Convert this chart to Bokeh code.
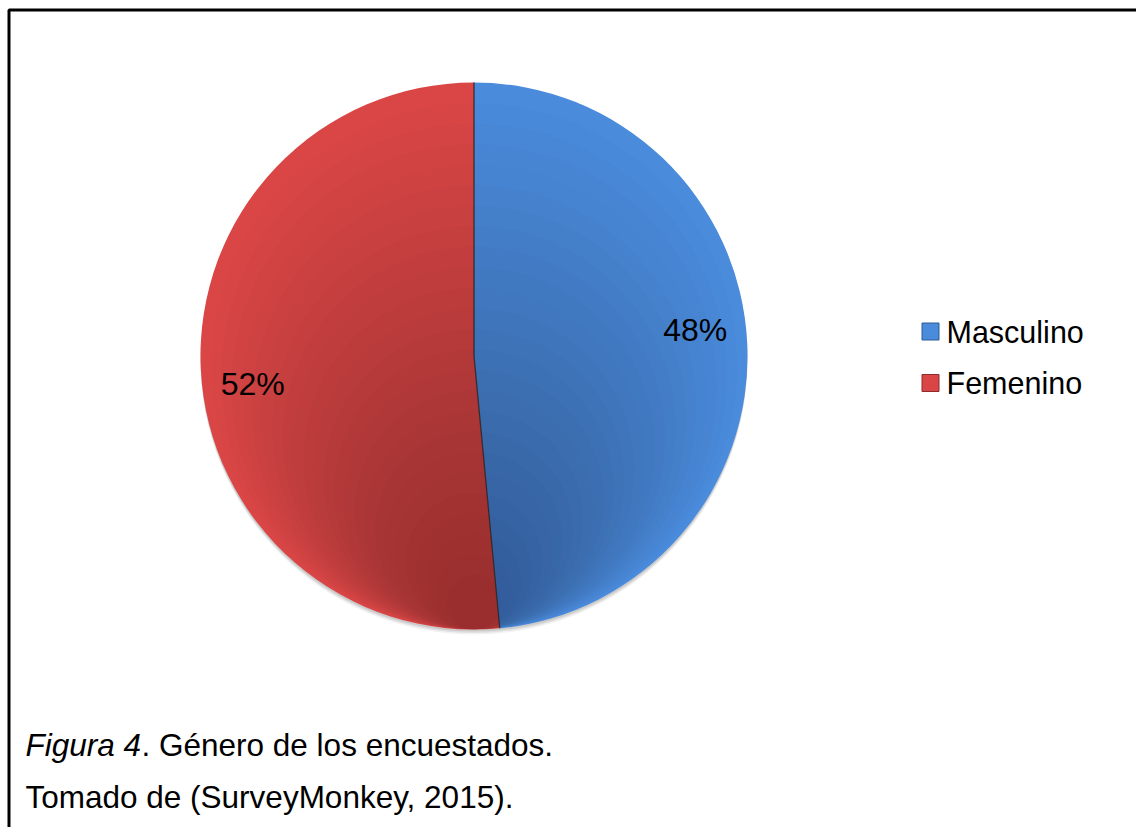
import numpy as np
from bokeh.plotting import figure
from bokeh.models import ColumnDataSource, Range1d, BoxAnnotation, Label
from bokeh.embed import file_html
from bokeh.resources import INLINE
from bokeh.core.properties import value

# ---- data ----
categories = ["Masculino", "Femenino"]
shares = [48.5, 51.5]
pct_labels = ["48%", "52%"]
colors = ["#4A8BDC", "#DA4646"]
edge_colors = ["#2C5A98", "#8E2B2B"]

W, H = 1136, 827
FONT = value("Liberation Sans")

p = figure(width=W, height=H, output_backend="svg", toolbar_location=None,
           x_range=Range1d(0, W), y_range=Range1d(0, H), min_border=0)
p.axis.visible = False
p.grid.visible = False
p.outline_line_color = None
p.background_fill_color = "white"
p.border_fill_color = "white"

# pie geometry (layout)
cx, cy, R = 473.5, H - 355.5, 273.5

vals = np.array(shares, dtype=float)
frac = vals / vals.sum()
cum = np.concatenate([[0.0], np.cumsum(frac)])
# clockwise from 12 o'clock
end_ang = np.pi / 2 - 2 * np.pi * cum[:-1]
start_ang = np.pi / 2 - 2 * np.pi * cum[1:]
mid_ang = (start_ang + end_ang) / 2

src = ColumnDataSource(dict(
    cat=categories, start=start_ang, end=end_ang, color=colors, edge=edge_colors,
    lx=cx + 0.81 * R * np.cos(mid_ang), ly=cy + 0.81 * R * np.sin(mid_ang),
    lab=pct_labels, yoff=[-16, 18],
))

# soft shadow below the pie
for k, a in [(5, 0.05), (3.5, 0.07), (2, 0.09)]:
    p.circle(x=cx, y=cy - k, radius=R, fill_color="#000000", fill_alpha=a, line_color=None)

p.wedge(x=cx, y=cy, radius=R, start_angle="start", end_angle="end", source=src,
        fill_color="color", line_color=None)

# vertical shading: darker towards the bottom (layers tangent at the bottom)
N = 24
for k in range(1, N + 1):
    d = (R * 0.9) * k / N
    p.circle(x=cx, y=cy - d, radius=R - d, fill_color="#000000", fill_alpha=0.012,
             line_color=None)

# slice separators
p.ray(x=cx, y=cy, length=R, angle=end_ang, length_units="data",
      line_color="#262626", line_width=1.3, line_alpha=0.85)

p.text(x="lx", y="ly", text="lab", source=src, y_offset="yoff", text_align="center",
       text_baseline="middle", text_font=FONT, text_font_size="32px", text_color="black")

# legend (drawn manually)
leg_x, leg_y0, leg_dy = 930, H - 331, 51.5
leg_src = ColumnDataSource(dict(
    x=[leg_x] * len(categories),
    y=[leg_y0 - i * leg_dy for i in range(len(categories))],
    cat=categories, color=colors, edge=edge_colors,
))
p.scatter(x="x", y="y", marker="square", size=17, source=leg_src,
          fill_color="color", line_color="edge", line_width=1)
p.text(x=946, y="y", text="cat", source=leg_src, y_offset=0, text_align="left",
       text_baseline="middle", text_font=FONT, text_font_size="30.5px", text_color="black")

# frame (top and left edges visible)
p.add_layout(BoxAnnotation(left=8.5, right=W + 200, top=H - 9.5, bottom=-200,
                           fill_alpha=0, line_color="black", line_alpha=1.0, line_width=3))

# caption
cap_font = dict(text_font="Liberation Sans", text_font_size="31.5px", text_color="black",
                text_baseline="alphabetic")
p.add_layout(Label(x=25, y=H - 744, text="Figura 4", text_font_style="italic", **cap_font))
p.add_layout(Label(x=141, y=H - 744, text=". Género de los encuestados.", **cap_font))
p.add_layout(Label(x=25, y=H - 796, text="Tomado de (SurveyMonkey, 2015).", **cap_font))

open("out.html", "w").write(file_html(p, INLINE))
